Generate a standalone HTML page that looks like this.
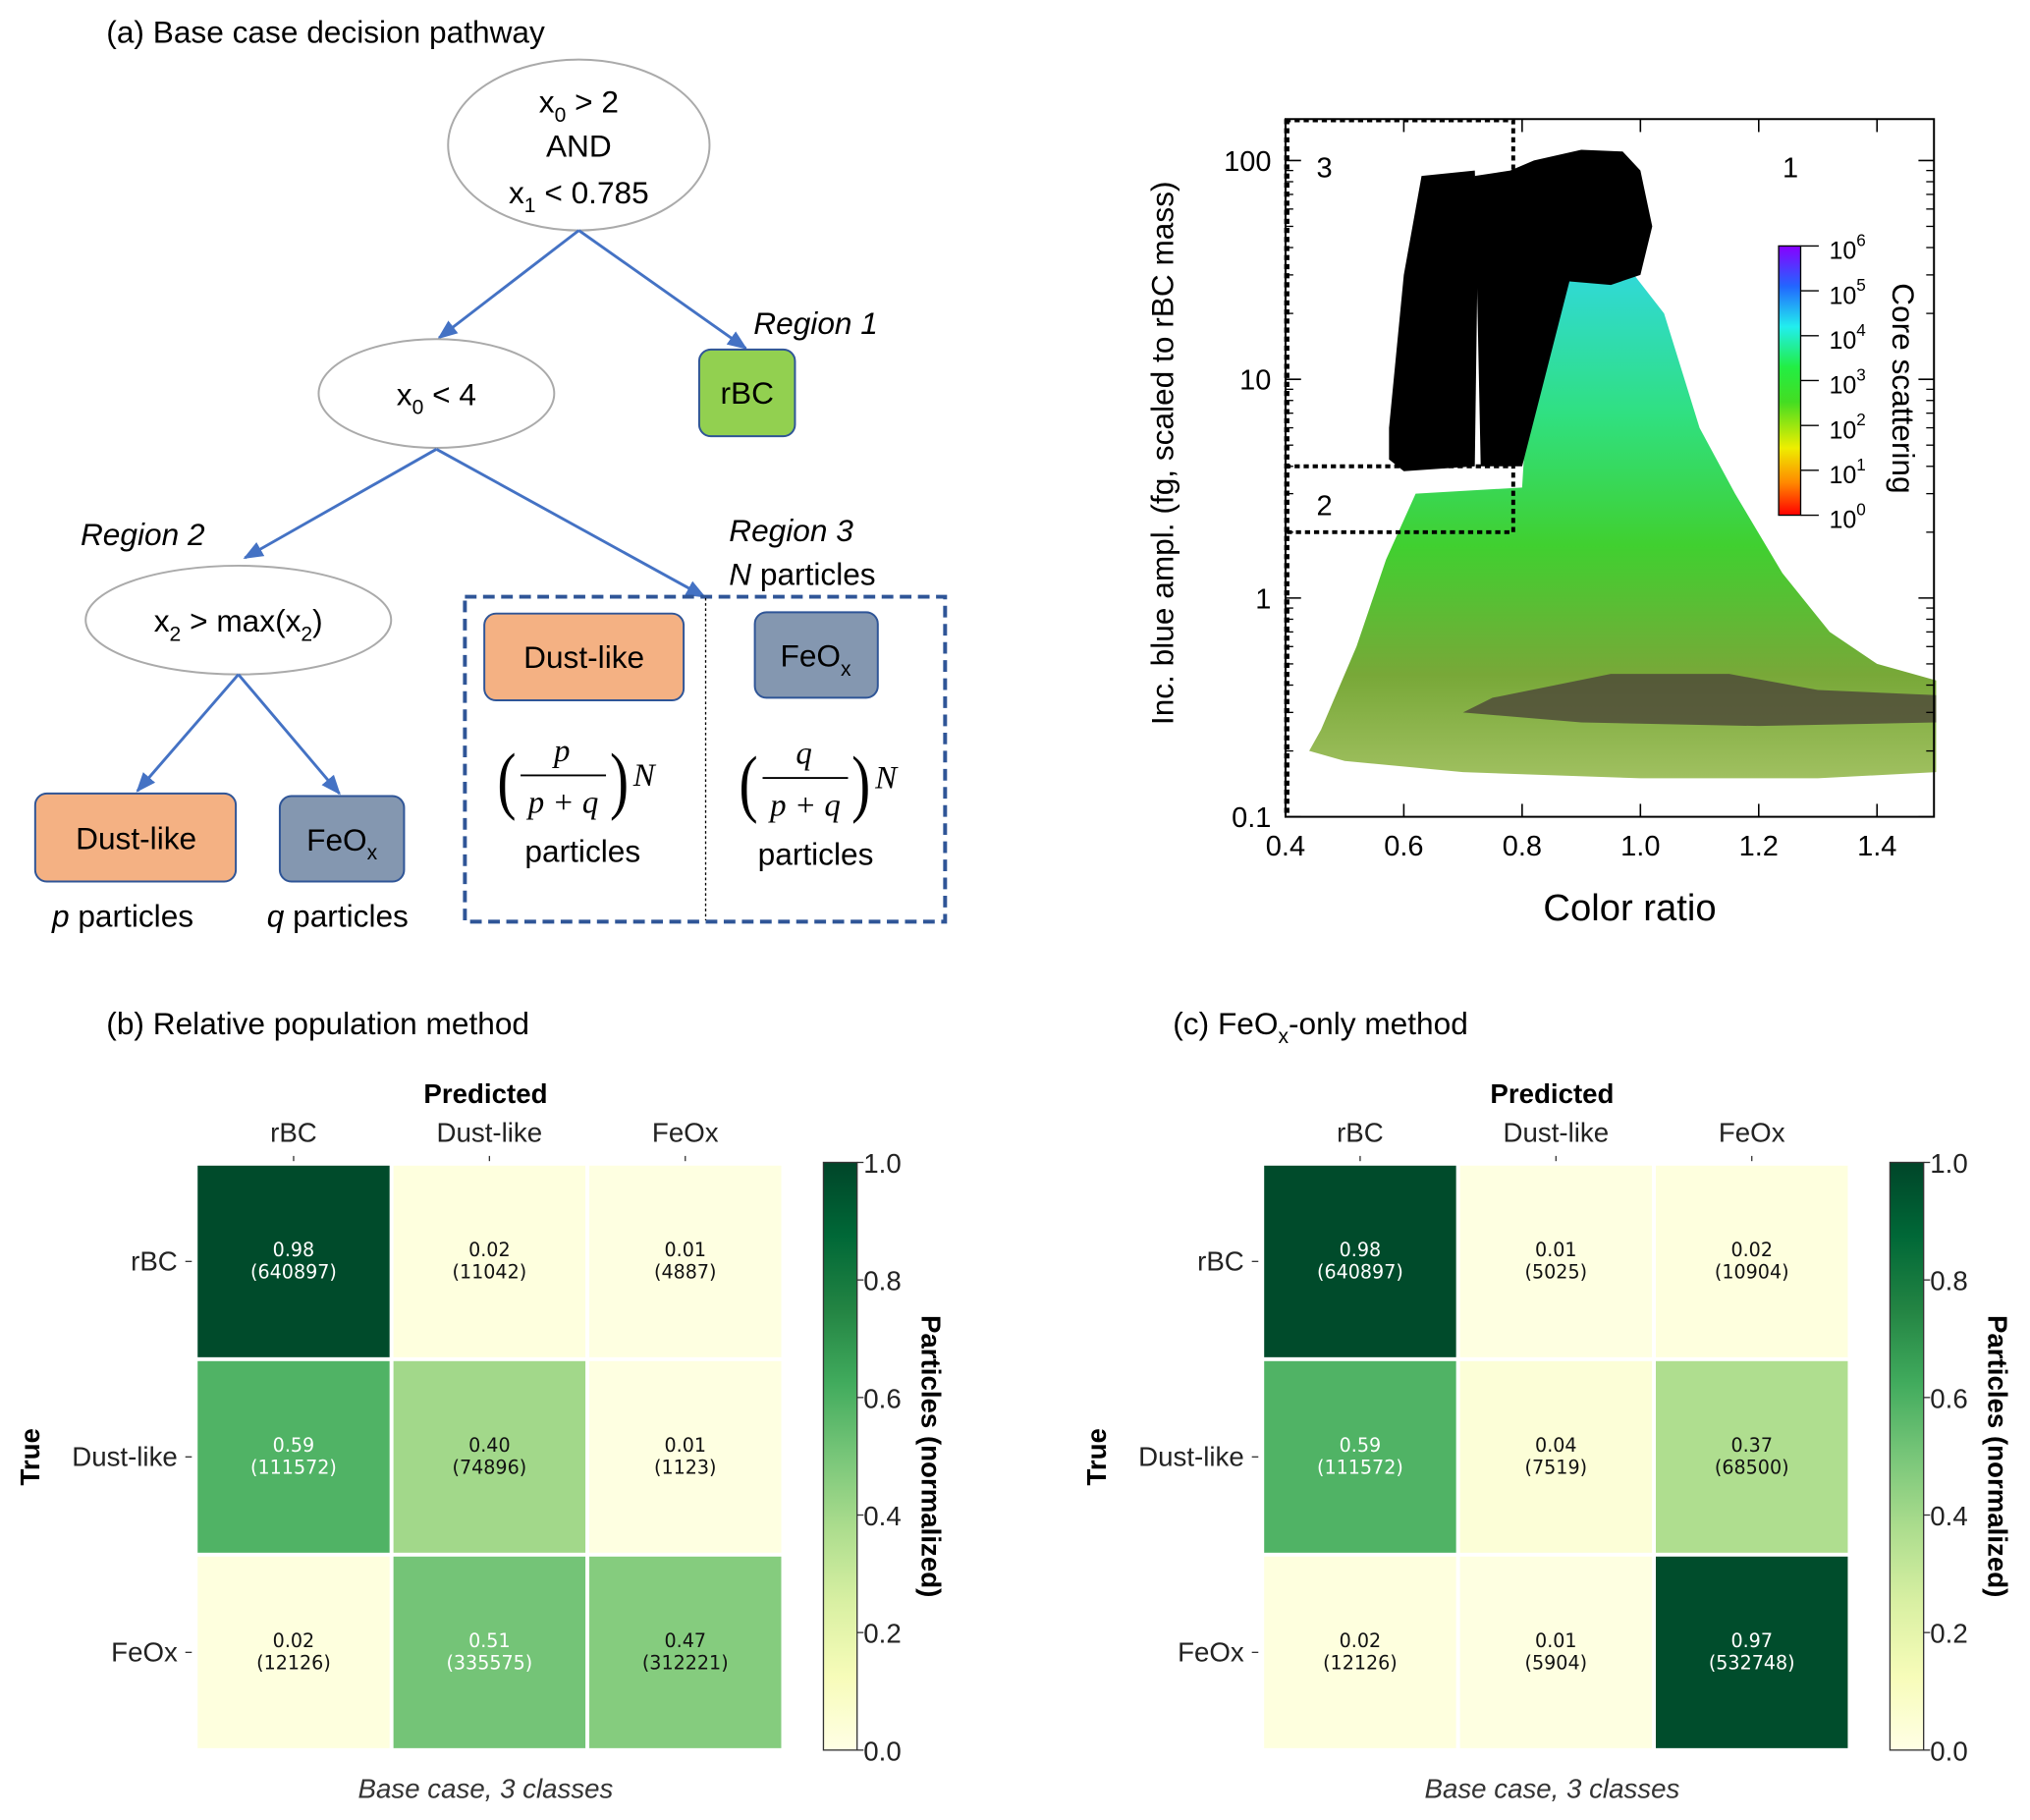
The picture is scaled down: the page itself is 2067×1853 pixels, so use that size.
<!DOCTYPE html>
<html><head><meta charset="utf-8"><style>
html,body{margin:0;padding:0;background:#fff;}
svg{display:block;font-family:"Liberation Sans","DejaVu Sans",sans-serif;}
</style></head><body>
<svg id="root" width="2067" height="1853" viewBox="0 0 1568 1406" xmlns="http://www.w3.org/2000/svg">
<defs>
<marker id="ah" viewBox="0 0 10 10" refX="9" refY="5" markerWidth="7" markerHeight="7" orient="auto"><path d="M0,1 L10,5 L0,9 z" fill="#4472c4"/></marker>
<linearGradient id="cbar" x1="0" y1="1" x2="0" y2="0">
<stop offset="0" stop-color="#ff0000"/><stop offset="0.12" stop-color="#ff8800"/><stop offset="0.25" stop-color="#eeee00"/><stop offset="0.42" stop-color="#44dd22"/><stop offset="0.55" stop-color="#22ee44"/><stop offset="0.7" stop-color="#22eeee"/><stop offset="0.85" stop-color="#2266ff"/><stop offset="1" stop-color="#8800ff"/>
</linearGradient>
<linearGradient id="cloud" x1="0" y1="0" x2="0" y2="1">
<stop offset="0" stop-color="#30d8e0"/><stop offset="0.3" stop-color="#30e080"/><stop offset="0.55" stop-color="#40d030"/><stop offset="0.8" stop-color="#78a838"/><stop offset="1" stop-color="#a0c060"/>
</linearGradient>
<linearGradient id="ylgn" x1="0" y1="1" x2="0" y2="0">
<stop offset="0" stop-color="#ffffe5"/><stop offset="0.125" stop-color="#f7fcb9"/><stop offset="0.25" stop-color="#d9f0a3"/><stop offset="0.375" stop-color="#addd8e"/><stop offset="0.5" stop-color="#78c679"/><stop offset="0.625" stop-color="#41ab5d"/><stop offset="0.75" stop-color="#238443"/><stop offset="0.875" stop-color="#006837"/><stop offset="1" stop-color="#004529"/>
</linearGradient>
</defs>

<!-- Panel (a) tree -->
<g font-size="24" fill="#000">
<text x="82" y="33">(a) Base case decision pathway</text>
<ellipse cx="447" cy="112" rx="101" ry="66" fill="#fff" stroke="#aaa" stroke-width="1.5"/>
<text x="447" y="87" text-anchor="middle">x<tspan font-size="16" dy="7">0</tspan><tspan dy="-7"> &gt; 2</tspan></text>
<text x="447" y="121" text-anchor="middle">AND</text>
<text x="447" y="157" text-anchor="middle">x<tspan font-size="16" dy="7">1</tspan><tspan dy="-7"> &lt; 0.785</tspan></text>
<line x1="447" y1="178" x2="339" y2="261" stroke="#4472c4" stroke-width="2.2" marker-end="url(#ah)"/>
<line x1="447" y1="178" x2="576" y2="269" stroke="#4472c4" stroke-width="2.2" marker-end="url(#ah)"/>
<text x="582" y="258" font-style="italic">Region 1</text>
<rect x="540" y="270" width="74" height="67" rx="9" fill="#92d050" stroke="#2f5597" stroke-width="1.5"/>
<text x="577" y="312" text-anchor="middle">rBC</text>
<ellipse cx="337" cy="304" rx="91" ry="42" fill="#fff" stroke="#aaa" stroke-width="1.5"/>
<text x="337" y="313" text-anchor="middle">x<tspan font-size="16" dy="7">0</tspan><tspan dy="-7"> &lt; 4</tspan></text>
<line x1="337" y1="347" x2="189" y2="431" stroke="#4472c4" stroke-width="2.2" marker-end="url(#ah)"/>
<line x1="337" y1="347" x2="544" y2="461" stroke="#4472c4" stroke-width="2.2" marker-end="url(#ah)"/>
<text x="62" y="421" font-style="italic">Region 2</text>
<ellipse cx="184" cy="479" rx="118" ry="42" fill="#fff" stroke="#aaa" stroke-width="1.5"/>
<text x="184" y="488" text-anchor="middle">x<tspan font-size="16" dy="7">2</tspan><tspan dy="-7"> &gt; max(x</tspan><tspan font-size="16" dy="7">2</tspan><tspan dy="-7">)</tspan></text>
<line x1="184" y1="521" x2="106" y2="611" stroke="#4472c4" stroke-width="2.2" marker-end="url(#ah)"/>
<line x1="184" y1="521" x2="262" y2="613" stroke="#4472c4" stroke-width="2.2" marker-end="url(#ah)"/>
<rect x="27" y="613" width="155" height="68" rx="9" fill="#f4b183" stroke="#2f5597" stroke-width="1.5"/>
<text x="105" y="656" text-anchor="middle">Dust-like</text>
<rect x="216" y="615" width="96" height="66" rx="9" fill="#8497b0" stroke="#2f5597" stroke-width="1.5"/>
<text x="264" y="657" text-anchor="middle">FeO<tspan font-size="16" dy="7">x</tspan></text>
<text x="40" y="716"><tspan font-style="italic">p</tspan> particles</text>
<text x="206" y="716"><tspan font-style="italic">q</tspan> particles</text>
<text x="563" y="418" font-style="italic">Region 3</text>
<text x="563" y="452"><tspan font-style="italic">N</tspan> particles</text>
<rect x="359" y="461" width="371" height="251" fill="none" stroke="#2f5597" stroke-width="3" stroke-dasharray="9,5"/>
<line x1="545" y1="462" x2="545" y2="711" stroke="#000" stroke-width="1" stroke-dasharray="2,2"/>
<rect x="374" y="474" width="154" height="67" rx="9" fill="#f4b183" stroke="#2f5597" stroke-width="1.5"/>
<text x="451" y="516" text-anchor="middle">Dust-like</text>
<rect x="583" y="473" width="95" height="66" rx="9" fill="#8497b0" stroke="#2f5597" stroke-width="1.5"/>
<text x="630" y="515" text-anchor="middle">FeO<tspan font-size="16" dy="7">x</tspan></text>
<g font-family="Liberation Serif,serif" font-style="italic">
<text x="384" y="622" font-size="58" font-style="normal" transform="scale(0.75,1) translate(128,0)">(</text>
<text x="434" y="588" text-anchor="middle" font-size="25">p</text>
<line x1="402" y1="599" x2="468" y2="599" stroke="#000" stroke-width="1.5"/>
<text x="435" y="628" text-anchor="middle" font-size="25">p + q</text>
<text x="471" y="622" font-size="58" font-style="normal" transform="scale(0.75,1) translate(157,0)">)</text>
<text x="489" y="607" font-size="25">N</text>
</g>
<g font-family="Liberation Serif,serif" font-style="italic">
<text x="571" y="624" font-size="58" font-style="normal" transform="scale(0.75,1) translate(190,0)">(</text>
<text x="621" y="590" text-anchor="middle" font-size="25">q</text>
<line x1="589" y1="601" x2="655" y2="601" stroke="#000" stroke-width="1.5"/>
<text x="622" y="630" text-anchor="middle" font-size="25">p + q</text>
<text x="658" y="624" font-size="58" font-style="normal" transform="scale(0.75,1) translate(219,0)">)</text>
<text x="676" y="609" font-size="25">N</text>
</g>
<text x="450" y="666" text-anchor="middle">particles</text>
<text x="630" y="668" text-anchor="middle">particles</text>
</g>

<g id="scatter"></g>
<g id="hmb"></g>
<g id="hmc"></g>
</svg>
<script>
// ---- scatter-plot data (outline shapes of point density) ----
const xTicks = [0.4, 0.6, 0.8, 1.0, 1.2, 1.4];
const xTickLabels = ["0.4", "0.6", "0.8", "1.0", "1.2", "1.4"];
const yTicks = [0.1, 1, 10, 100];
const yTickLabels = ["0.1", "1", "10", "100"];
const cloudX = [0.46, 0.52, 0.57, 0.62, 0.8, 0.82, 0.9, 0.97, 1.04, 1.1, 1.16, 1.24, 1.32, 1.4, 1.5, 1.5, 1.3, 1.0, 0.7, 0.5, 0.44];
const cloudY = [0.25, 0.6, 1.5, 3.0, 3.2, 25, 35, 35, 20, 6, 3, 1.3, 0.7, 0.5, 0.42, 0.16, 0.15, 0.15, 0.16, 0.18, 0.2];
const darkX = [0.75, 0.95, 1.15, 1.3, 1.5, 1.5, 1.2, 0.9, 0.7];
const darkY = [0.35, 0.45, 0.45, 0.38, 0.36, 0.27, 0.26, 0.27, 0.3];
const blackAX = [0.575, 0.6, 0.63, 0.72, 0.725, 0.72, 0.6, 0.575];
const blackAY = [6, 30, 85, 90, 40, 4, 3.8, 4.3];
const blackBX = [0.72, 0.78, 0.82, 0.9, 0.97, 1.0, 1.02, 1.0, 0.95, 0.88, 0.8, 0.73];
const blackBY = [85, 90, 100, 112, 110, 90, 50, 30, 27, 28, 4, 4];
const regionX = [0.4, 0.785];
const regionY = [2, 4];
const cbarLabels = [6, 5, 4, 3, 2, 1, 0];

const NS = "http://www.w3.org/2000/svg";
function mk(tag, attrs, parent, txt) {
  const e = document.createElementNS(NS, tag);
  for (const k in attrs) e.setAttribute(k, attrs[k]);
  if (txt !== undefined) e.textContent = txt;
  parent.appendChild(e);
  return e;
}
const PX0 = 993, PX1 = 1494, PY0 = 92, PY1 = 631;
const sx = v => PX0 + (v - 0.4) / 0.2 * 91.4;
const sy = v => 631 - (Math.log10(v) + 1) * 169;
const sc = document.getElementById('scatter');
function poly(xs, ys, fill, name, op) {
  const p = mk('polygon', {points: xs.map((x, i) => sx(x) + ',' + sy(ys[i])).join(' '), fill: fill, opacity: op || 1}, sc);
  
  
}
poly(cloudX, cloudY, 'url(#cloud)', 'density-cloud');
poly(darkX, darkY, '#4c4638', 'dense-low-band', 0.8);
poly(blackBX, blackBY, '#000', 'black-cluster-right');
poly(blackAX, blackAY, '#000', 'black-cluster-left');
const fr = mk('rect', {x: PX0, y: PY0, width: PX1 - PX0, height: PY1 - PY0, fill: 'none', stroke: '#000', 'stroke-width': 1.5}, sc);


const rb = mk('path', {d: `M${sx(0.4)},${PY0+1} H${sx(regionX[1])} V${sy(regionY[0])} H${sx(0.4)} M${sx(0.4)},${sy(regionY[1])} H${sx(regionX[1])}`, fill: 'none', stroke: '#000', 'stroke-width': 3, 'stroke-dasharray': '4,3'}, sc);


mk('path', {d: `M${PX0+1},${PY0} V${PY1}`, stroke: '#000', 'stroke-width': 4, 'stroke-dasharray': '4,3'}, sc);
mk('text', {x: 1017, y: 137, 'font-size': 22}, sc, '3');
mk('text', {x: 1017, y: 398, 'font-size': 22}, sc, '2');
mk('text', {x: 1377, y: 137, 'font-size': 22}, sc, '1');
xTicks.forEach((v, i) => {
  const x = sx(v);
  mk('line', {x1: x, y1: PY1, x2: x, y2: PY1 - 10, stroke: '#000', 'stroke-width': 1.2}, sc);
  mk('line', {x1: x, y1: PY0, x2: x, y2: PY0 + 10, stroke: '#000', 'stroke-width': 1.2}, sc);
  const t = mk('text', {x: x, y: 661, 'font-size': 22, 'text-anchor': 'middle'}, sc, xTickLabels[i]);
  
  
});
yTicks.forEach((v, i) => {
  const y = sy(v);
  mk('line', {x1: PX0, y1: y, x2: PX0 + 12, y2: y, stroke: '#000', 'stroke-width': 1.2}, sc);
  mk('line', {x1: PX1, y1: y, x2: PX1 - 12, y2: y, stroke: '#000', 'stroke-width': 1.2}, sc);
  const t = mk('text', {x: 982, y: y + 8, 'font-size': 22, 'text-anchor': 'end'}, sc, yTickLabels[i]);
  
  
  if (i < yTicks.length - 1) for (let m = 2; m <= 9; m++) {
    const yy = sy(v * m);
    if (yy < PY0) continue;
    mk('line', {x1: PX0, y1: yy, x2: PX0 + 6, y2: yy, stroke: '#000'}, sc);
    mk('line', {x1: PX1, y1: yy, x2: PX1 - 6, y2: yy, stroke: '#000'}, sc);
  }
});
const xt = mk('text', {x: 1259, y: 711, 'font-size': 29, 'text-anchor': 'middle'}, sc, 'Color ratio');


const yt = mk('text', {x: 0, y: 0, 'font-size': 24, 'text-anchor': 'middle', transform: 'translate(906,350) rotate(-90)'}, sc, 'Inc. blue ampl. (fg, scaled to rBC mass)');


const cb = mk('rect', {x: 1374, y: 190, width: 17, height: 208, fill: 'url(#cbar)', stroke: '#000', 'stroke-width': 1}, sc);


cbarLabels.forEach((p, i) => {
  const y = 190 + i * 208 / 6;
  mk('line', {x1: 1391, y1: y, x2: 1405, y2: y, stroke: '#000'}, sc);
  const t = mk('text', {x: 1413, y: y + 10, 'font-size': 19}, sc);
  
  
  mk('tspan', {}, t, '10');
  mk('tspan', {dy: -10, 'font-size': 13}, t, String(p));
});
const ct = mk('text', {x: 0, y: 0, 'font-size': 24, 'text-anchor': 'middle', transform: 'translate(1462,300) rotate(90)'}, sc, 'Core scattering');



// ---- heatmap data ----
const classes = ["rBC", "Dust-like", "FeOx"];
const fracB = [[0.98, 0.02, 0.01], [0.59, 0.40, 0.01], [0.02, 0.51, 0.47]];
const countB = [[640897, 11042, 4887], [111572, 74896, 1123], [12126, 335575, 312221]];
const fracC = [[0.98, 0.01, 0.02], [0.59, 0.04, 0.37], [0.02, 0.01, 0.97]];
const countC = [[640897, 5025, 10904], [111572, 7519, 68500], [12126, 5904, 532748]];
const cbTicks = [0.0, 0.2, 0.4, 0.6, 0.8, 1.0];

const stops = [[255,255,229],[247,252,185],[217,240,163],[173,221,142],[120,198,121],[65,171,93],[35,132,67],[0,104,55],[0,69,41]];
function ylgn(v) {
  const t = Math.max(0, Math.min(1, v)) * 8, i = Math.min(7, Math.floor(t)), f = t - i;
  const c = stops[i].map((a, k) => Math.round(a + (stops[i + 1][k] - a) * f));
  return `rgb(${c})`;
}
function heatmap(g, ox, frac, count, title, panelTitle) {
  const T = mk('text', {x: ox + 82, y: 799, 'font-size': 24}, g);
  
  
  panelTitle(T);
  const cw = 151.3, ch = 151, x0 = ox + 151, y0 = 899;
  const pt = mk('text', {x: ox + 375, y: 852, 'font-size': 21, 'font-weight': 'bold', 'text-anchor': 'middle'}, g, 'Predicted');
  
  
  const tt = mk('text', {x: 0, y: 0, 'font-size': 21, 'font-weight': 'bold', 'text-anchor': 'middle', transform: `translate(${ox + 30},${y0 + 1.5 * ch}) rotate(-90)`}, g, 'True');
  
  
  classes.forEach((c, j) => {
    const cx = x0 + (j + 0.5) * cw;
    const l = mk('text', {x: cx, y: 882, 'font-size': 21, 'text-anchor': 'middle', fill: '#222'}, g, c);
    
    
    mk('line', {x1: cx, y1: 893, x2: cx, y2: 897, stroke: '#333'}, g);
    const cy = y0 + (j + 0.5) * ch;
    const r = mk('text', {x: x0 - 14, y: cy + 7, 'font-size': 21, 'text-anchor': 'end', fill: '#222'}, g, c);
    
    
    mk('line', {x1: x0 - 8, y1: cy, x2: x0 - 3, y2: cy, stroke: '#333'}, g);
  });
  frac.forEach((row, i) => row.forEach((v, j) => {
    const rc = mk('rect', {x: x0 + j * cw + 1.5, y: y0 + i * ch + 1.5, width: cw - 3, height: ch - 3, fill: ylgn(v)}, g);
    
    
    const col = v > 0.5 ? '#fff' : '#111';
    const cx = x0 + (j + 0.5) * cw, cy = y0 + (i + 0.5) * ch;
    mk('text', {x: cx, y: cy - 4, 'font-size': 14.5, 'text-anchor': 'middle', fill: col, 'font-family': 'DejaVu Sans,sans-serif'}, g, v.toFixed(2));
    mk('text', {x: cx, y: cy + 13, 'font-size': 14.5, 'text-anchor': 'middle', fill: col, 'font-family': 'DejaVu Sans,sans-serif'}, g, '(' + count[i][j] + ')');
  }));
  const bx = ox + 636, by0 = 898, by1 = 1352;
  const bar = mk('rect', {x: bx, y: by0, width: 26, height: by1 - by0, fill: 'url(#ylgn)', stroke: '#333', 'stroke-width': 1}, g);
  
  
  cbTicks.forEach(v => {
    const y = by1 - v * (by1 - by0);
    mk('line', {x1: bx + 26, y1: y, x2: bx + 31, y2: y, stroke: '#333'}, g);
    const t = mk('text', {x: bx + 31, y: y + 8, 'font-size': 21, fill: '#222'}, g, v.toFixed(1));
    
    
  });
  const ctt = mk('text', {x: 0, y: 0, 'font-size': 21, 'font-weight': 'bold', 'text-anchor': 'middle', transform: `translate(${ox + 712},1125) rotate(90)`}, g, 'Particles (normalized)');
  
  
  const cap = mk('text', {x: ox + 375, y: 1389, 'font-size': 21, 'font-style': 'italic', 'text-anchor': 'middle', fill: '#333'}, g, title);
  
  
}
heatmap(document.getElementById('hmb'), 0, fracB, countB, 'Base case, 3 classes', T => { T.textContent = '(b) Relative population method'; });
heatmap(document.getElementById('hmc'), 824, fracC, countC, 'Base case, 3 classes', T => {
  mk('tspan', {}, T, '(c) FeO');
  mk('tspan', {dy: 7, 'font-size': 16}, T, 'x');
  mk('tspan', {dy: -7}, T, '-only method');
});
</script>
</body></html>
